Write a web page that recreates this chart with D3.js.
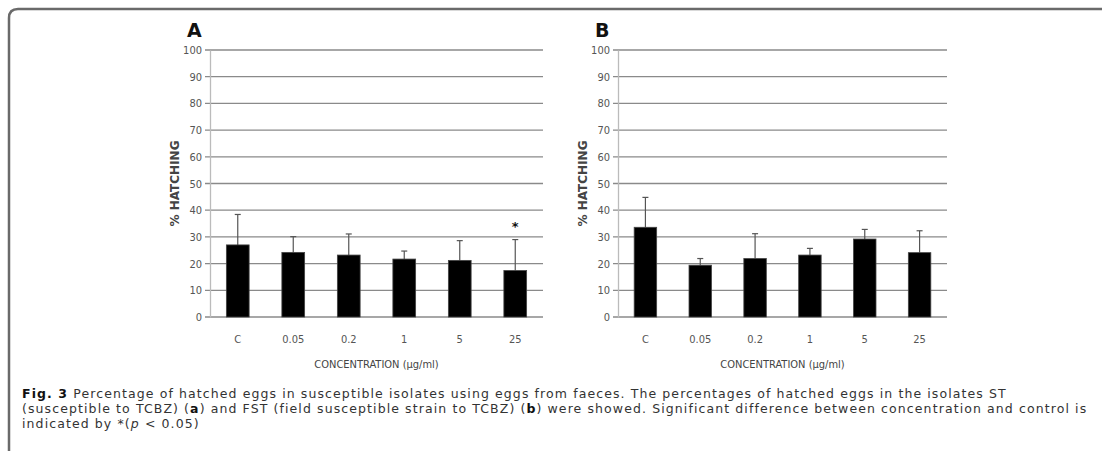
<!DOCTYPE html>
<html>
<head>
<meta charset="utf-8">
<script src="https://cdn.jsdelivr.net/npm/d3@7"></script>
<style>
  body { margin: 0; background: #fff; }
  svg { display: block; }
  .tick text { font-family: "Liberation Sans Narrow", "DejaVu Sans Condensed", "Liberation Sans", sans-serif; font-stretch: condensed; fill: #555; }
</style>
</head>
<body>
<div id="chart"></div>
<script>
// concentrations (µg/ml)
const concentrations = ["C", "0.05", "0.2", "1", "5", "25"];
// % hatching, panel A (ST)
const hatchA = [27.0, 24.2, 23.2, 21.7, 21.2, 17.4];
const errA = [11.4, 5.9, 7.9, 3.0, 7.4, 11.6];
const sigA = [false, false, false, false, false, true];
// % hatching, panel B (FST)
const hatchB = [33.6, 19.4, 21.9, 23.2, 29.2, 24.1];
const errB = [11.2, 2.5, 9.3, 2.5, 3.6, 8.2];
const sigB = [false, false, false, false, false, false];
const yTicks = [0, 10, 20, 30, 40, 50, 60, 70, 80, 90, 100];

const width = 1102, height = 451;
const narrow = "\"Liberation Sans Narrow\", \"DejaVu Sans Condensed\", sans-serif";
const svg = d3.select("#chart").append("svg")
    .attr("width", width)
    .attr("height", height);

// rounded frame, open to the right and bottom
svg.append("path")
    .attr("d", "M9,460 L9,18 Q9,9 18,9 L1110,9")
    .attr("fill", "none")
    .attr("stroke", "#6a6a6a")
    .attr("stroke-width", 2.5);

function drawPanel(letter, x0, x1, values, errs, sig) {
    const x = d3.scaleBand().domain(concentrations).range([x0, x1]).paddingInner(0.59).paddingOuter(0.295);
    const y = d3.scaleLinear().domain([0, 100]).range([317, 50]);
    const g = svg.append("g");

    // gridlines
    g.append("g")
        .selectAll("line")
        .data(yTicks)
        .enter().append("line")
        .attr("x1", x0 - 5).attr("x2", x1)
        .attr("y1", d => y(d)).attr("y2", d => y(d))
        .attr("stroke", "#8a8a8a")
        .attr("stroke-width", 1.3);

    // y axis
    const yAxis = g.append("g")
        .attr("transform", "translate(" + x0 + ",0)")
        .call(d3.axisLeft(y).tickValues(yTicks).tickSize(0).tickPadding(8));
    yAxis.select(".domain").attr("stroke", "#bbbbbb").attr("stroke-width", 1.3);
    yAxis.selectAll("text").style("font-size", "11px");

    // x axis labels
    const xAxis = g.append("g")
        .attr("transform", "translate(0," + y(0) + ")")
        .call(d3.axisBottom(x).tickSize(0).tickPadding(18));
    xAxis.select(".domain").remove();
    xAxis.selectAll("text").style("font-size", "11px");

    // error bars (upper only)
    const eb = g.append("g").selectAll("g")
        .data(values.map((v, i) => ({c: concentrations[i], v: v, e: errs[i], s: sig[i]})))
        .enter().append("g");
    eb.append("line")
        .attr("x1", d => x(d.c) + x.bandwidth() / 2)
        .attr("x2", d => x(d.c) + x.bandwidth() / 2)
        .attr("y1", d => y(d.v))
        .attr("y2", d => y(d.v + d.e))
        .attr("stroke", "#555").attr("stroke-width", 1.2);
    eb.append("line")
        .attr("x1", d => x(d.c) + x.bandwidth() / 2 - 3)
        .attr("x2", d => x(d.c) + x.bandwidth() / 2 + 3)
        .attr("y1", d => y(d.v + d.e))
        .attr("y2", d => y(d.v + d.e))
        .attr("stroke", "#555").attr("stroke-width", 1.2);

    // bars
    g.append("g").selectAll("rect")
        .data(values)
        .enter().append("rect")
        .attr("x", (d, i) => x(concentrations[i]))
        .attr("y", d => y(d))
        .attr("width", x.bandwidth())
        .attr("height", d => y(0) - y(d))
        .attr("fill", "#000")
        .attr("stroke", "#444")
        .attr("stroke-width", 0.8);

    // significance marks
    eb.filter(d => d.s).append("text")
        .attr("x", d => x(d.c) + x.bandwidth() / 2)
        .attr("y", d => y(d.v + d.e) - 9)
        .attr("text-anchor", "middle")
        .style("font-family", "\"DejaVu Sans\", sans-serif")
        .style("font-size", "13px")
        .style("font-weight", "bold")
        .style("fill", "#111")
        .text("*");

    // axis titles
    g.append("text")
        .attr("x", (x0 + x1) / 2)
        .attr("y", 368)
        .attr("text-anchor", "middle")
        .style("font-family", narrow)
        .style("font-stretch", "condensed")
        .style("font-size", "11px")
        .style("fill", "#444")
        .text("CONCENTRATION (µg/ml)");
    g.append("text")
        .attr("transform", "translate(" + (x0 - 35) + "," + y(50) + ") rotate(-90)")
        .attr("dy", "0.35em")
        .attr("text-anchor", "middle")
        .style("font-family", "\"DejaVu Sans\", sans-serif")
        .style("font-size", "12px")
        .style("font-weight", "bold")
        .style("fill", "#444")
        .text("% HATCHING");

    // panel letter
    g.append("text")
        .attr("x", x0 - 23)
        .attr("y", 37)
        .style("font-family", "\"DejaVu Sans\", sans-serif")
        .style("font-size", "19px")
        .style("font-weight", "bold")
        .style("fill", "#111")
        .text(letter);
}

drawPanel("A", 210, 543, hatchA, errA, sigA);
drawPanel("B", 618, 947, hatchB, errB, sigB);

// caption, one text per line, pieces as sibling tspans
const captionLines = [
    [["Fig. 3", "b"], [" Percentage of hatched eggs in susceptible isolates using eggs from faeces. The percentages of hatched eggs in the isolates ST", ""]],
    [["(susceptible to TCBZ) (", ""], ["a", "b"], [") and FST (field susceptible strain to TCBZ) (", ""], ["b", "b"], [") were showed. Significant difference between concentration and control is", ""]],
    [["indicated by *(", ""], ["p", "i"], [" < 0.05)", ""]]
];
const captionY = [398, 413, 428];
captionLines.forEach(function (parts, i) {
    const t = svg.append("text")
        .attr("x", 22)
        .attr("y", captionY[i])
        .style("font-family", "\"DejaVu Sans\", sans-serif")
        .style("font-size", "12.5px")
        .style("letter-spacing", "1.1px")
        .style("fill", "#333");
    t.selectAll("tspan")
        .data(parts)
        .enter().append("tspan")
        .style("font-weight", d => d[1] === "b" ? "bold" : null)
        .style("font-style", d => d[1] === "i" ? "italic" : null)
        .style("fill", d => d[1] === "b" ? "#111" : null)
        .text(d => d[0]);
});
</script>
</body>
</html>
